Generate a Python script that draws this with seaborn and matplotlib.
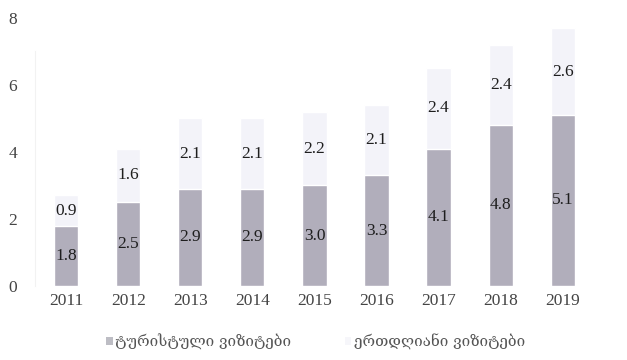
import matplotlib
matplotlib.use("Agg")
import matplotlib.pyplot as plt
from matplotlib.patches import Patch
import seaborn as sns
import pandas as pd

years = ["2011", "2012", "2013", "2014", "2015", "2016", "2017", "2018", "2019"]
tourist_visits = [1.8, 2.5, 2.9, 2.9, 3.0, 3.3, 4.1, 4.8, 5.1]
day_visits = [0.9, 1.6, 2.1, 2.1, 2.2, 2.1, 2.4, 2.4, 2.6]
series_names = ["ტურისტული ვიზიტები", "ერთდღიანი ვიზიტები"]
y_ticks = [0, 2, 4, 6, 8]

bottom_color = "#b1aebb"
top_color = "#f3f3f9"

df = pd.DataFrame({"year": years, "tourist": tourist_visits, "day": day_visits})
df["total"] = df["tourist"] + df["day"]

sns.set_style("white")
plt.rcParams["font.family"] = ["Liberation Serif", "DejaVu Serif", "DejaVu Sans"]

fig = plt.figure(figsize=(6.27, 3.6), dpi=100)
ax = fig.add_axes([0.056, 0.206, 0.891, 0.744])

# stacked bars: full height first, then the lower segment over it
sns.barplot(data=df, x="year", y="total", color=top_color, width=0.39,
            saturation=1, ax=ax)
sns.barplot(data=df, x="year", y="tourist", color=bottom_color, width=0.39,
            saturation=1, ax=ax)

for i, row in df.iterrows():
    ax.text(i, row["tourist"] / 2, f"{row['tourist']:.1f}", ha="center",
            va="center", fontsize=12.5, color="#1e1e1e")
    ax.text(i, row["tourist"] + row["day"] / 2, f"{row['day']:.1f}",
            ha="center", va="center", fontsize=12.5, color="#1e1e1e")

ax.set_ylim(0, 8)
ax.set_xlim(-0.5, len(years) - 0.5)
ax.set_yticks(y_ticks)
ax.set_yticklabels([str(t) for t in y_ticks])
ax.set_xlabel("")
ax.set_ylabel("")
ax.tick_params(axis="both", length=0, labelsize=12.5, colors="#444444")
ax.tick_params(axis="y", pad=13)
ax.tick_params(axis="x", pad=5)
for side in ["top", "right", "bottom"]:
    ax.spines[side].set_visible(False)
ax.spines["left"].set_color("#f2f2f2")
ax.spines["left"].set_bounds(0, 7.0)

handles = [Patch(facecolor="#bdbdc4", edgecolor="none"),
           Patch(facecolor="#f6f6fa", edgecolor="none")]
fig.legend(handles, series_names, loc="lower center", ncol=2, frameon=False,
           bbox_to_anchor=(0.503, -0.01), handlelength=0.45, handleheight=0.45,
           handletextpad=0.15, columnspacing=3.5,
           prop={"family": ["DejaVu Serif", "DejaVu Sans"], "size": 11},
           labelcolor="#555555")

fig.savefig("out.png", dpi=100)
